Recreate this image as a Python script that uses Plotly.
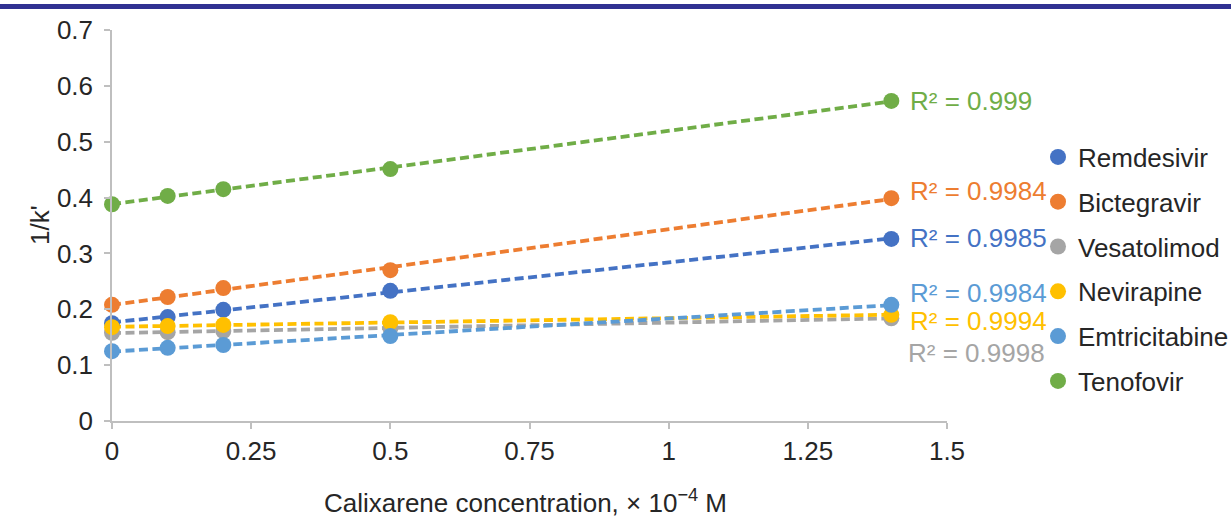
import numpy as np
import plotly.graph_objects as go

conc = [0, 0.1, 0.2, 0.5, 1.4]
names = ["Remdesivir", "Bictegravir", "Vesatolimod", "Nevirapine", "Emtricitabine", "Tenofovir"]
remdesivir = [0.175, 0.186, 0.199, 0.233, 0.326]
bictegravir = [0.208, 0.222, 0.238, 0.270, 0.399]
vesatolimod = [0.158, 0.159, 0.161, 0.166, 0.184]
nevirapine = [0.168, 0.170, 0.172, 0.177, 0.190]
emtricitabine = [0.125, 0.131, 0.136, 0.152, 0.208]
tenofovir = [0.388, 0.403, 0.415, 0.451, 0.573]
r2_labels = ["R² = 0.9985", "R² = 0.9984", "R² = 0.9998", "R² = 0.9994", "R² = 0.9984", "R² = 0.999"]
x_ticks = [0, 0.25, 0.5, 0.75, 1, 1.25, 1.5]
x_tick_text = ["0", "0.25", "0.5", "0.75", "1", "1.25", "1.5"]
y_ticks = [0, 0.1, 0.2, 0.3, 0.4, 0.5, 0.6, 0.7]
y_tick_text = ["0", "0.1", "0.2", "0.3", "0.4", "0.5", "0.6", "0.7"]

series = [remdesivir, bictegravir, vesatolimod, nevirapine, emtricitabine, tenofovir]
colors = ["#4472C4", "#ED7D31", "#A5A5A5", "#FFC000", "#5B9BD5", "#70AD47"]
label_yshift = [1, 7, -35, -6, 12, 0]
label_xshift = [17, 17, 15, 17, 17, 17]

FONT = "Liberation Sans, Arial, sans-serif"
FS = 26
TXT = "#262626"

L, R, T, B = 112, 284, 30, 96
PW = 1231 - L - R
PH = 517 - T - B

fig = go.Figure()
for name, ys, c in zip(names, series, colors):
    m, b = np.polyfit(conc, ys, 1)
    xs = [conc[0], conc[-1]]
    fig.add_trace(go.Scatter(x=xs, y=[m * x + b for x in xs], mode="lines",
                             line=dict(color=c, width=3.8, dash="9px,4.5px"),
                             showlegend=False, hoverinfo="skip", cliponaxis=False))
for name, ys, c in zip(names, series, colors):
    fig.add_trace(go.Scatter(x=conc, y=ys, mode="markers", name=name, legendgroup=name,
                             marker=dict(color=c, size=16), cliponaxis=False))

for lab, ys, c, dy, dx in zip(r2_labels, series, colors, label_yshift, label_xshift):
    fig.add_annotation(x=conc[-1], y=ys[-1], text=lab, showarrow=False, xanchor="left",
                       yanchor="middle", xshift=dx, yshift=dy,
                       font=dict(family=FONT, size=FS, color=c))

# axis titles
fig.add_annotation(xref="paper", yref="paper", x=(525 - L) / PW, y=(517 - B - 501) / PH,
                   text="Calixarene concentration, × 10<sup>−4</sup> M", showarrow=False,
                   xanchor="center", yanchor="middle", font=dict(family=FONT, size=FS, color=TXT))
fig.add_annotation(xref="paper", yref="paper", x=(40 - L) / PW, y=(517 - B - 225) / PH,
                   text="1/k'", textangle=-90, showarrow=False,
                   xanchor="center", yanchor="middle", font=dict(family=FONT, size=FS, color=TXT))

fig.add_shape(type="rect", xref="paper", yref="paper",
              x0=-L / PW, x1=(1231 - L) / PW, y0=(517 - B - 4) / PH, y1=(517 - B - 9) / PH,
              fillcolor="#303192", line_width=0, layer="above")

axis_common = dict(showgrid=False, zeroline=False, showline=True, linecolor="#BFBFBF",
                   linewidth=1.5, ticks="outside", ticklen=6, tickcolor="#BFBFBF", tickwidth=1.5,
                   automargin=False, tickfont=dict(family=FONT, size=FS, color=TXT))
fig.update_xaxes(range=[0, 1.5], tickvals=x_ticks, ticktext=x_tick_text,
                 ticklabelstandoff=0, **axis_common)
fig.update_yaxes(range=[0, 0.7], tickvals=y_ticks, ticktext=y_tick_text,
                 ticklabelstandoff=6, **axis_common)

fig.update_layout(width=1231, height=517, margin=dict(l=L, r=R, t=T, b=B, autoexpand=False),
                  paper_bgcolor="white", plot_bgcolor="white",
                  legend=dict(x=(1038 - L) / PW, xanchor="left", y=(517 - B - 269) / PH,
                              yanchor="middle",
                              font=dict(family=FONT, size=FS, color=TXT),
                              tracegroupgap=8, bgcolor="rgba(0,0,0,0)"),
                  showlegend=True)

fig.write_html("out.html", config={"responsive": False, "displayModeBar": False},
               post_script="document.body.style.margin='0';document.body.style.overflow='hidden';")
